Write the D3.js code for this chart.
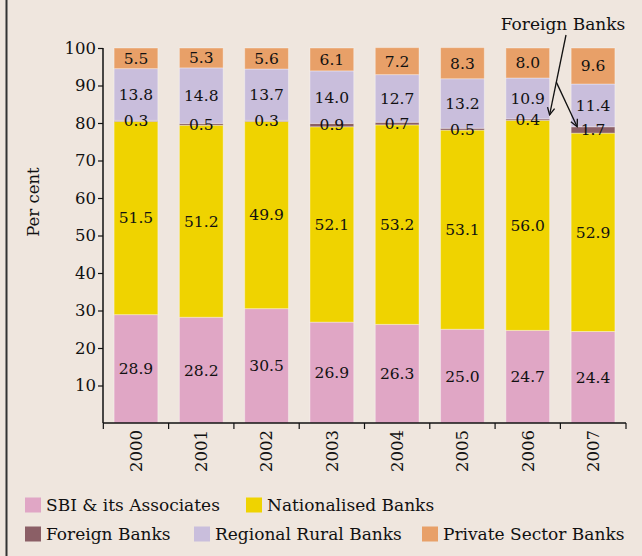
<!DOCTYPE html>
<html>
<head>
<meta charset="utf-8">
<script src="https://cdn.jsdelivr.net/npm/d3@7"></script>
<style>
  body { margin: 0; background: #efe6de; }
  svg { display: block; font-family: "DejaVu Serif", serif; }
</style>
</head>
<body>
<svg id="chart" width="642" height="556"></svg>
<script>
// data (per cent share)
var years = ["2000", "2001", "2002", "2003", "2004", "2005", "2006", "2007"];
var sbi      = [28.9, 28.2, 30.5, 26.9, 26.3, 25.0, 24.7, 24.4];
var national = [51.5, 51.2, 49.9, 52.1, 53.2, 53.1, 56.0, 52.9];
var foreign  = [0.3, 0.5, 0.3, 0.9, 0.7, 0.5, 0.4, 1.7];
var rrb      = [13.8, 14.8, 13.7, 14.0, 12.7, 13.2, 10.9, 11.4];
var priv     = [5.5, 5.3, 5.6, 6.1, 7.2, 8.3, 8.0, 9.6];
var seriesNames = ["SBI & its Associates", "Nationalised Banks", "Foreign Banks", "Regional Rural Banks", "Private Sector Banks"];
var yTicks = [10, 20, 30, 40, 50, 60, 70, 80, 90, 100];

var colors = ["#e0a6c5", "#efd300", "#8b5f66", "#c9bedc", "#e8a068"];
var keys = ["sbi", "national", "foreign", "rrb", "priv"];

var data = years.map(function(y, i) {
  return {year: y, sbi: sbi[i], national: national[i], foreign: foreign[i], rrb: rrb[i], priv: priv[i]};
});

var svg = d3.select("#chart");

// left frame line
svg.append("line")
  .attr("x1", 6.5).attr("x2", 6.5).attr("y1", 0).attr("y2", 556)
  .attr("stroke", "#333").attr("stroke-width", 2);

var x = d3.scaleBand().domain(years).range([103, 626]).paddingInner(0.33).paddingOuter(0.17);
var y = d3.scaleLinear().domain([0, 100]).range([423, 48]);

var stacked = d3.stack().keys(keys)(data);

var layers = svg.append("g").selectAll("g")
  .data(stacked)
  .enter().append("g")
  .attr("fill", function(d, i) { return colors[i]; });

layers.selectAll("rect")
  .data(function(d) { return d; })
  .enter().append("rect")
  .attr("x", function(d) { return x(d.data.year); })
  .attr("y", function(d) { return y(d[1]); })
  .attr("width", x.bandwidth())
  .attr("height", function(d) { return y(d[0]) - y(d[1]); })
  .attr("stroke", "rgba(255,255,255,0.35)")
  .attr("stroke-width", 1);

// value labels
var labels = svg.append("g")
  .attr("font-size", 15.5)
  .attr("fill", "#111")
  .attr("text-anchor", "middle");

stacked.forEach(function(layer) {
  labels.selectAll(null)
    .data(layer)
    .enter().append("text")
    .attr("x", function(d) { return x(d.data.year) + x.bandwidth() / 2; })
    .attr("y", function(d) { return y((d[0] + d[1]) / 2); })
    .attr("dy", "0.35em")
    .text(function(d) { return (d[1] - d[0]).toFixed(1); });
});

// axes
var yAxis = svg.append("g")
  .attr("transform", "translate(103,0)")
  .call(d3.axisLeft(y).tickValues(yTicks).tickSize(5).tickSizeOuter(0));
yAxis.select(".domain").attr("stroke", "#111").attr("stroke-width", 1.5)
  .attr("d", "M0," + y(0) + "V" + y(100));
yAxis.selectAll(".tick line").attr("stroke", "#111").attr("stroke-width", 1.2);
yAxis.selectAll(".tick text").attr("font-family", "DejaVu Serif, serif").attr("font-size", 16.5).attr("fill", "#111").attr("x", -7);

var xAxis = svg.append("g")
  .attr("transform", "translate(0," + y(0) + ")");
xAxis.append("line")
  .attr("x1", x.range()[0]).attr("x2", x.range()[1])
  .attr("stroke", "#111").attr("stroke-width", 1.5);
var bounds = years.map(function(yr) { return x(yr) - x.step() * x.paddingInner() / 2; }).concat([x.range()[1]]);
xAxis.selectAll(".xt")
  .data(bounds)
  .enter().append("line")
  .attr("x1", function(d) { return d; }).attr("x2", function(d) { return d; })
  .attr("y1", 0).attr("y2", 6)
  .attr("stroke", "#111").attr("stroke-width", 1.2);
xAxis.selectAll(".yl")
  .data(years)
  .enter().append("text")
  .attr("transform", function(d) { return "translate(" + (x(d) + x.bandwidth() / 2) + ",7) rotate(-90)"; })
  .attr("text-anchor", "end")
  .attr("dy", "0.35em")
  .attr("font-size", 16.5)
  .attr("fill", "#111")
  .text(function(d) { return d; });

// y label
svg.append("text")
  .attr("transform", "translate(33,202) rotate(-90)")
  .attr("text-anchor", "middle")
  .attr("dy", "0.35em")
  .attr("font-size", 16.5)
  .attr("fill", "#111")
  .text("Per cent");

// annotation for foreign banks
var i06 = years.indexOf("2006"), i07 = years.indexOf("2007");
var tip1 = [x("2006") + x.bandwidth(), y(sbi[i06] + national[i06] + foreign[i06]) - 4];
var tip2 = [x("2007") + 6, y(sbi[i07] + national[i07] + foreign[i07])];
var start = [566, 35];
var t = 0.59;
var branch = [start[0] + (tip1[0] - start[0]) * t, start[1] + (tip1[1] - start[1]) * t];

svg.append("defs").append("marker")
  .attr("id", "arr")
  .attr("viewBox", "0 0 10 10")
  .attr("refX", 9).attr("refY", 5)
  .attr("markerWidth", 9).attr("markerHeight", 9)
  .attr("markerUnits", "userSpaceOnUse")
  .attr("orient", "auto")
  .append("path")
  .attr("d", "M1,1L9,5L1,9")
  .attr("fill", "none").attr("stroke", "#111").attr("stroke-width", 1.5);

svg.append("line")
  .attr("x1", start[0]).attr("y1", start[1]).attr("x2", tip1[0]).attr("y2", tip1[1])
  .attr("stroke", "#111").attr("stroke-width", 1.3).attr("marker-end", "url(#arr)");
svg.append("line")
  .attr("x1", branch[0]).attr("y1", branch[1]).attr("x2", tip2[0]).attr("y2", tip2[1])
  .attr("stroke", "#111").attr("stroke-width", 1.3).attr("marker-end", "url(#arr)");
svg.append("text")
  .attr("x", 563).attr("y", 30)
  .attr("text-anchor", "middle")
  .attr("font-size", 17)
  .attr("fill", "#111")
  .text("Foreign Banks");

// legend
var legendPos = [[25, 505], [246, 505], [25, 534], [194, 534], [422, 534]];
var legend = svg.append("g").selectAll("g")
  .data(seriesNames)
  .enter().append("g")
  .attr("transform", function(d, i) { return "translate(" + legendPos[i][0] + "," + legendPos[i][1] + ")"; });
legend.append("rect")
  .attr("x", 0).attr("y", -7.5)
  .attr("width", 16).attr("height", 15)
  .attr("fill", function(d, i) { return colors[i]; });
legend.append("text")
  .attr("x", 21).attr("dy", "0.35em")
  .attr("font-size", 17)
  .attr("fill", "#111")
  .text(function(d) { return d; });
</script>
</body>
</html>
